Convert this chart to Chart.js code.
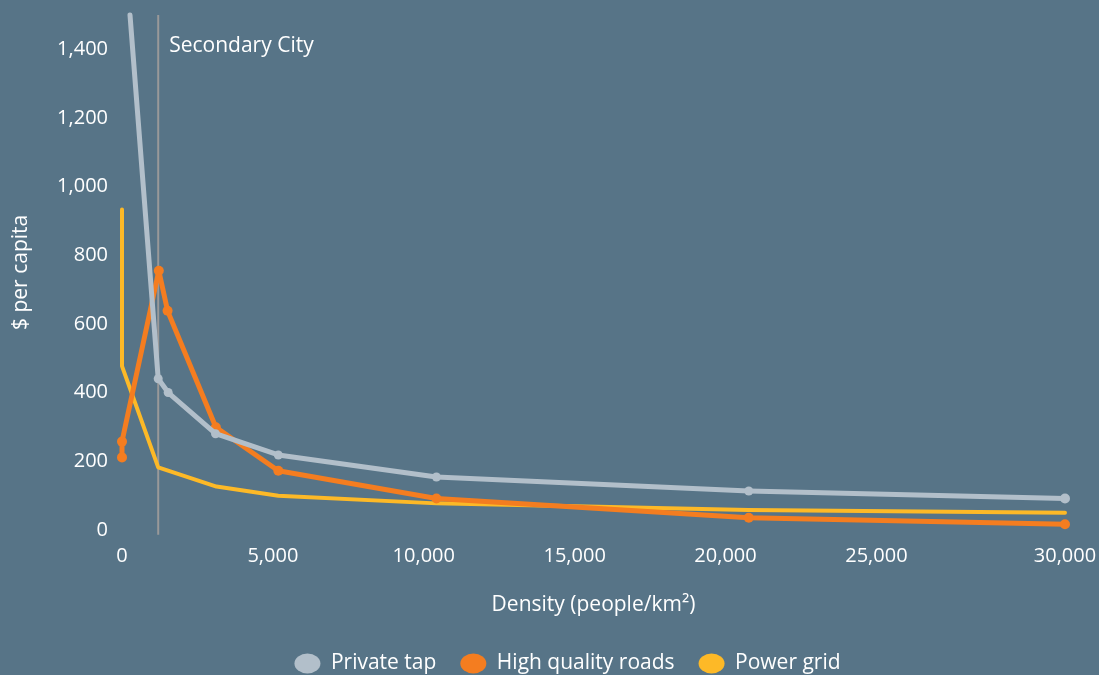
<!DOCTYPE html>
<html>
<head>
<meta charset="utf-8">
<script src="https://cdn.jsdelivr.net/npm/chart.js@4.4.0/dist/chart.umd.min.js"></script>
<style>
  html, body { margin: 0; padding: 0; background: #577487; overflow: hidden; }
  #wrap { width: 1099px; height: 675px; }
</style>
</head>
<body>
<div id="wrap"><canvas id="chart"></canvas></div>
<script>
  // density (people/km2) and $ per capita
  const tapX = [265, 1200, 1530, 3100, 5180, 10420, 20770, 31250];
  const tapY = [1500, 440, 400, 280, 218, 154, 113, 91];

  const roadsX = [0, 0, 1220, 1510, 3110, 5180, 10420, 20770, 31250];
  const roadsY = [211, 257, 755, 638, 299, 172, 91, 35, 16];

  const gridX = [0, 0, 1200, 3130, 5180, 10420, 20770, 31250];
  const gridY = [933, 477, 182, 126, 99, 77, 58, 50];

  const xTickValues = [0, 5000, 10000, 15000, 20000, 25000, 31250];
  const xTickLabels = ["0", "5,000", "10,000", "15,000", "20,000", "25,000", "30,000"];
  const yTickValues = [0, 200, 400, 600, 800, 1000, 1200, 1400];

  const secondaryCity = 1200;

  const pts = (xs, ys) => xs.map((x, i) => ({ x: x, y: ys[i] }));
  const font = (size) => ({ family: "'Open Sans'", size: size });

  const bgPlugin = {
    id: "bg",
    beforeDraw(chart) {
      const ctx = chart.ctx;
      ctx.save();
      ctx.fillStyle = "#577487";
      ctx.fillRect(0, 0, chart.width, chart.height);
      ctx.restore();
    }
  };

  // the legend in the original sits a bit right of centre
  const legendShift = {
    id: "legendShift",
    afterLayout(chart) {
      chart.legend.left += 70;
    }
  };

  const cityLine = {
    id: "cityLine",
    beforeDatasetsDraw(chart) {
      const ctx = chart.ctx;
      const x = chart.scales.x.getPixelForValue(secondaryCity);
      const a = chart.chartArea;
      ctx.save();
      ctx.strokeStyle = "#999999";
      ctx.lineWidth = 2;
      ctx.beginPath();
      ctx.moveTo(x, a.top);
      ctx.lineTo(x, a.bottom + 5);
      ctx.stroke();
      ctx.fillStyle = "#ffffff";
      ctx.font = "21px 'Open Sans'";
      ctx.textBaseline = "middle";
      ctx.fillText("Secondary City", x + 11, a.top + 31);
      ctx.restore();
    }
  };

  const lineStyle = {
    showLine: true,
    clip: false,
    borderCapStyle: "round",
    borderJoinStyle: "round",
    pointBorderWidth: 0,
    pointHoverRadius: 4.5
  };

  new Chart(document.getElementById("chart"), {
    type: "scatter",
    data: {
      datasets: [
        Object.assign({
          label: "Private tap",
          data: pts(tapX, tapY),
          borderColor: "#b2bfca",
          backgroundColor: "#b2bfca",
          borderWidth: 5,
          pointRadius: [0, 4.5, 4.5, 4.5, 4.5, 4.5, 4.5, 5]
        }, lineStyle),
        Object.assign({
          label: "High quality roads",
          data: pts(roadsX, roadsY),
          borderColor: "#f47d20",
          backgroundColor: "#f47d20",
          borderWidth: 5,
          pointRadius: 5
        }, lineStyle),
        Object.assign({
          label: "Power grid",
          data: pts(gridX, gridY),
          borderColor: "#fdb927",
          backgroundColor: "#fdb927",
          borderWidth: 4,
          pointRadius: 0
        }, lineStyle)
      ]
    },
    options: {
      responsive: true,
      maintainAspectRatio: false,
      animation: false,
      layout: { padding: { top: 15, right: 34, left: 0, bottom: -9 } },
      plugins: {
        legend: {
          position: "bottom",
          labels: {
            color: "#ffffff",
            font: font(21),
            usePointStyle: true,
            pointStyle: "circle",
            boxHeight: 14,
            pointStyleWidth: 26,
            padding: 24
          }
        },
        tooltip: { enabled: false }
      },
      scales: {
        x: {
          type: "linear",
          min: 0,
          max: 31250,
          grid: { display: false, drawTicks: false },
          border: { display: false },
          afterBuildTicks(axis) {
            axis.ticks = xTickValues.map(v => ({ value: v }));
          },
          afterFit(axis) {
            axis.paddingLeft = 0;
            axis.paddingRight = 0;
          },
          ticks: {
            color: "#ffffff",
            font: font(20),
            padding: 14,
            maxRotation: 0,
            callback: (v) => xTickLabels[xTickValues.indexOf(v)]
          },
          title: {
            display: true,
            text: "Density (people/km²)",
            color: "#ffffff",
            font: font(21),
            padding: { top: 11, bottom: 11 }
          }
        },
        y: {
          min: 0,
          max: 1500,
          grid: { display: false, drawTicks: false },
          border: { display: false },
          afterBuildTicks(axis) {
            axis.ticks = yTickValues.map(v => ({ value: v }));
          },
          afterFit(axis) {
            axis.width = 122;
            axis.paddingTop = 0;
            axis.paddingBottom = 0;
          },
          ticks: {
            color: "#ffffff",
            font: font(20),
            padding: 14,
            callback: (v) => v.toLocaleString("en-US")
          },
          title: {
            display: true,
            text: "$ per capita",
            color: "#ffffff",
            font: font(21),
            padding: { top: 8, bottom: 0 }
          }
        }
      }
    },
    plugins: [bgPlugin, legendShift, cityLine]
  });
</script>
</body>
</html>
